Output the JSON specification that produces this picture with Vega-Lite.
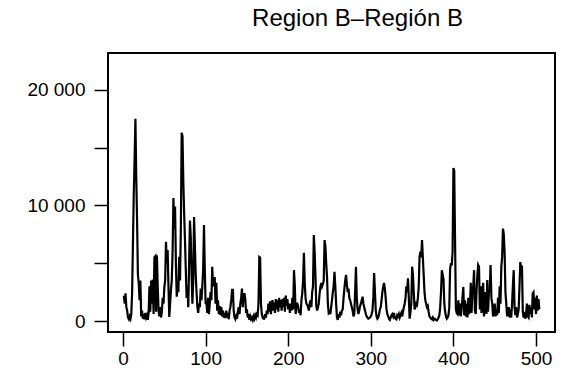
{
  "$schema": "https://vega.github.io/schema/vega-lite/v6.json",
  "width": 447,
  "height": 279,
  "autosize": {"type": "none"},
  "padding": {"left": 108, "top": 53, "right": 9, "bottom": 45},
  "background": "white",
  "config": {
    "view": {"stroke": "black", "strokeWidth": 2},
    "font": "Liberation Sans"
  },
  "title": {
    "text": "Region B–Región B",
    "fontSize": 24,
    "fontWeight": "normal",
    "font": "Liberation Sans",
    "color": "black",
    "anchor": "middle",
    "dx": 26,
    "offset": 22
  },
  "data": {
    "name": "series",
    "values": [
      {"t":1,"v":2200},{"t":2,"v":1500},{"t":3,"v":2400},{"t":4,"v":1200},{"t":5,"v":900},{"t":6,"v":300},{"t":7,"v":150},{"t":8,"v":400},{"t":9,"v":200},{"t":10,"v":600},
      {"t":11,"v":2500},{"t":12,"v":6700},{"t":13,"v":11000},{"t":14,"v":14000},{"t":15,"v":17500},{"t":16,"v":12500},{"t":17,"v":8700},{"t":18,"v":4000},{"t":19,"v":3300},{"t":20,"v":1800},
      {"t":21,"v":3500},{"t":22,"v":400},{"t":23,"v":900},{"t":24,"v":200},{"t":25,"v":600},{"t":26,"v":150},{"t":27,"v":700},{"t":28,"v":300},{"t":29,"v":500},{"t":30,"v":100},
      {"t":31,"v":700},{"t":32,"v":3000},{"t":33,"v":800},{"t":34,"v":3500},{"t":35,"v":1500},{"t":36,"v":3600},{"t":37,"v":600},{"t":38,"v":5500},{"t":39,"v":5600},{"t":40,"v":800},
      {"t":41,"v":5700},{"t":42,"v":3000},{"t":43,"v":900},{"t":44,"v":400},{"t":45,"v":1200},{"t":46,"v":300},{"t":47,"v":800},{"t":48,"v":2000},{"t":49,"v":1500},{"t":50,"v":2900},
      {"t":51,"v":3500},{"t":52,"v":6850},{"t":53,"v":5000},{"t":54,"v":6150},{"t":55,"v":3000},{"t":56,"v":350},{"t":57,"v":1500},{"t":58,"v":2700},{"t":59,"v":3500},{"t":60,"v":6000},
      {"t":61,"v":10650},{"t":62,"v":8000},{"t":63,"v":9900},{"t":64,"v":5000},{"t":65,"v":2100},{"t":66,"v":3000},{"t":67,"v":2500},{"t":68,"v":5550},{"t":69,"v":3500},{"t":70,"v":8000},
      {"t":71,"v":16300},{"t":72,"v":16000},{"t":73,"v":12000},{"t":74,"v":9300},{"t":75,"v":7000},{"t":76,"v":4400},{"t":77,"v":2000},{"t":78,"v":3000},{"t":79,"v":1200},{"t":80,"v":5000},
      {"t":81,"v":8700},{"t":82,"v":7300},{"t":83,"v":4000},{"t":84,"v":1500},{"t":85,"v":3500},{"t":86,"v":9000},{"t":87,"v":6500},{"t":88,"v":4000},{"t":89,"v":2500},{"t":90,"v":1200},
      {"t":91,"v":700},{"t":92,"v":1500},{"t":93,"v":1200},{"t":94,"v":2800},{"t":95,"v":1800},{"t":96,"v":3000},{"t":97,"v":4400},{"t":98,"v":8300},{"t":99,"v":4400},{"t":100,"v":1550},
      {"t":101,"v":1500},{"t":102,"v":700},{"t":103,"v":2000},{"t":104,"v":600},{"t":105,"v":1500},{"t":106,"v":2500},{"t":107,"v":1800},{"t":108,"v":4700},{"t":109,"v":3000},{"t":110,"v":3300},
      {"t":111,"v":3800},{"t":112,"v":1500},{"t":113,"v":3300},{"t":114,"v":900},{"t":115,"v":1800},{"t":116,"v":600},{"t":117,"v":1300},{"t":118,"v":500},{"t":119,"v":1200},{"t":120,"v":400},
      {"t":121,"v":900},{"t":122,"v":300},{"t":123,"v":700},{"t":124,"v":250},{"t":125,"v":900},{"t":126,"v":300},{"t":127,"v":700},{"t":128,"v":150},{"t":129,"v":900},{"t":130,"v":1200},
      {"t":131,"v":1800},{"t":132,"v":2700},{"t":133,"v":2700},{"t":134,"v":900},{"t":135,"v":300},{"t":136,"v":150},{"t":137,"v":400},{"t":138,"v":200},{"t":139,"v":800},{"t":140,"v":1200},
      {"t":141,"v":600},{"t":142,"v":1500},{"t":143,"v":2000},{"t":144,"v":2800},{"t":145,"v":1200},{"t":146,"v":2200},{"t":147,"v":2400},{"t":148,"v":1900},{"t":149,"v":700},{"t":150,"v":1000},
      {"t":151,"v":300},{"t":152,"v":600},{"t":153,"v":100},{"t":154,"v":400},{"t":155,"v":150},{"t":156,"v":300},{"t":157,"v":100},{"t":158,"v":400},{"t":159,"v":200},{"t":160,"v":500},
      {"t":161,"v":300},{"t":162,"v":600},{"t":163,"v":500},{"t":164,"v":1500},{"t":165,"v":5550},{"t":166,"v":5500},{"t":167,"v":1500},{"t":168,"v":600},{"t":169,"v":300},{"t":170,"v":200},
      {"t":171,"v":200},{"t":172,"v":600},{"t":173,"v":300},{"t":174,"v":900},{"t":175,"v":600},{"t":176,"v":1500},{"t":177,"v":800},{"t":178,"v":1700},{"t":179,"v":600},{"t":180,"v":1300},
      {"t":181,"v":1800},{"t":182,"v":900},{"t":183,"v":1600},{"t":184,"v":700},{"t":185,"v":1900},{"t":186,"v":1000},{"t":187,"v":1800},{"t":188,"v":800},{"t":189,"v":2000},{"t":190,"v":1200},
      {"t":191,"v":1800},{"t":192,"v":900},{"t":193,"v":1900},{"t":194,"v":1200},{"t":195,"v":2000},{"t":196,"v":800},{"t":197,"v":2200},{"t":198,"v":1300},{"t":199,"v":1900},{"t":200,"v":1000},
      {"t":201,"v":1500},{"t":202,"v":700},{"t":203,"v":1500},{"t":204,"v":900},{"t":205,"v":2000},{"t":206,"v":1000},{"t":207,"v":4400},{"t":208,"v":3000},{"t":209,"v":600},{"t":210,"v":1500},
      {"t":211,"v":1500},{"t":212,"v":1300},{"t":213,"v":700},{"t":214,"v":1000},{"t":215,"v":500},{"t":216,"v":1800},{"t":217,"v":2400},{"t":218,"v":3500},{"t":219,"v":5900},{"t":220,"v":3300},
      {"t":221,"v":2000},{"t":222,"v":1500},{"t":223,"v":1400},{"t":224,"v":1200},{"t":225,"v":900},{"t":226,"v":1500},{"t":227,"v":1800},{"t":228,"v":1200},{"t":229,"v":2500},{"t":230,"v":3000},
      {"t":231,"v":7450},{"t":232,"v":6000},{"t":233,"v":3800},{"t":234,"v":1300},{"t":235,"v":900},{"t":236,"v":1200},{"t":237,"v":1500},{"t":238,"v":2400},{"t":239,"v":3000},{"t":240,"v":3300},
      {"t":241,"v":3000},{"t":242,"v":3200},{"t":243,"v":3500},{"t":244,"v":7000},{"t":245,"v":6500},{"t":246,"v":5000},{"t":247,"v":3800},{"t":248,"v":1500},{"t":249,"v":700},{"t":250,"v":800},
      {"t":251,"v":600},{"t":252,"v":1200},{"t":253,"v":1800},{"t":254,"v":2500},{"t":255,"v":3000},{"t":256,"v":4250},{"t":257,"v":3000},{"t":258,"v":1500},{"t":259,"v":300},{"t":260,"v":100},
      {"t":261,"v":600},{"t":262,"v":300},{"t":263,"v":800},{"t":264,"v":500},{"t":265,"v":900},{"t":266,"v":1000},{"t":267,"v":2000},{"t":268,"v":2800},{"t":269,"v":3500},{"t":270,"v":4000},
      {"t":271,"v":3200},{"t":272,"v":2500},{"t":273,"v":2800},{"t":274,"v":2000},{"t":275,"v":1800},{"t":276,"v":1500},{"t":277,"v":1200},{"t":278,"v":900},{"t":279,"v":400},{"t":280,"v":600},
      {"t":281,"v":2500},{"t":282,"v":4700},{"t":283,"v":2000},{"t":284,"v":1000},{"t":285,"v":600},{"t":286,"v":900},{"t":287,"v":1300},{"t":288,"v":1500},{"t":289,"v":1800},{"t":290,"v":2100},
      {"t":291,"v":1500},{"t":292,"v":1200},{"t":293,"v":900},{"t":294,"v":600},{"t":295,"v":400},{"t":296,"v":300},{"t":297,"v":200},{"t":298,"v":250},{"t":299,"v":300},{"t":300,"v":400},
      {"t":301,"v":600},{"t":302,"v":900},{"t":303,"v":2000},{"t":304,"v":4150},{"t":305,"v":2500},{"t":306,"v":900},{"t":307,"v":400},{"t":308,"v":200},{"t":309,"v":300},{"t":310,"v":600},
      {"t":311,"v":1000},{"t":312,"v":1200},{"t":313,"v":1800},{"t":314,"v":2500},{"t":315,"v":3000},{"t":316,"v":3300},{"t":317,"v":2800},{"t":318,"v":2000},{"t":319,"v":1000},{"t":320,"v":600},
      {"t":321,"v":400},{"t":322,"v":200},{"t":323,"v":100},{"t":324,"v":300},{"t":325,"v":500},{"t":326,"v":600},{"t":327,"v":400},{"t":328,"v":700},{"t":329,"v":300},{"t":330,"v":200},
      {"t":331,"v":150},{"t":332,"v":500},{"t":333,"v":400},{"t":334,"v":600},{"t":335,"v":300},{"t":336,"v":500},{"t":337,"v":700},{"t":338,"v":400},{"t":339,"v":800},{"t":340,"v":1200},
      {"t":341,"v":1500},{"t":342,"v":2000},{"t":343,"v":3000},{"t":344,"v":2500},{"t":345,"v":3700},{"t":346,"v":2000},{"t":347,"v":200},{"t":348,"v":800},{"t":349,"v":1500},{"t":350,"v":4700},
      {"t":351,"v":4000},{"t":352,"v":2500},{"t":353,"v":1000},{"t":354,"v":1200},{"t":355,"v":1500},{"t":356,"v":1400},{"t":357,"v":2000},{"t":358,"v":3000},{"t":359,"v":5550},{"t":360,"v":6000},
      {"t":361,"v":5500},{"t":362,"v":7000},{"t":363,"v":5500},{"t":364,"v":4000},{"t":365,"v":2500},{"t":366,"v":1800},{"t":367,"v":1500},{"t":368,"v":1200},{"t":369,"v":1300},{"t":370,"v":800},
      {"t":371,"v":400},{"t":372,"v":300},{"t":373,"v":200},{"t":374,"v":150},{"t":375,"v":300},{"t":376,"v":100},{"t":377,"v":200},{"t":378,"v":150},{"t":379,"v":100},{"t":380,"v":50},
      {"t":381,"v":150},{"t":382,"v":300},{"t":383,"v":500},{"t":384,"v":1200},{"t":385,"v":2500},{"t":386,"v":4400},{"t":387,"v":4000},{"t":388,"v":3600},{"t":389,"v":1500},{"t":390,"v":800},
      {"t":391,"v":400},{"t":392,"v":200},{"t":393,"v":300},{"t":394,"v":500},{"t":395,"v":1200},{"t":396,"v":4500},{"t":397,"v":5000},{"t":398,"v":4800},{"t":399,"v":6000},{"t":400,"v":13250},
      {"t":401,"v":13000},{"t":402,"v":7000},{"t":403,"v":1000},{"t":404,"v":700},{"t":405,"v":600},{"t":406,"v":1800},{"t":407,"v":500},{"t":408,"v":1500},{"t":409,"v":400},{"t":410,"v":1200},
      {"t":411,"v":2000},{"t":412,"v":2950},{"t":413,"v":500},{"t":414,"v":1800},{"t":415,"v":400},{"t":416,"v":1500},{"t":417,"v":300},{"t":418,"v":2000},{"t":419,"v":600},{"t":420,"v":1200},
      {"t":421,"v":3300},{"t":422,"v":700},{"t":423,"v":2500},{"t":424,"v":3000},{"t":425,"v":4400},{"t":426,"v":900},{"t":427,"v":600},{"t":428,"v":2500},{"t":429,"v":4000},{"t":430,"v":4850},
      {"t":431,"v":4700},{"t":432,"v":1000},{"t":433,"v":3000},{"t":434,"v":700},{"t":435,"v":2000},{"t":436,"v":3300},{"t":437,"v":400},{"t":438,"v":1500},{"t":439,"v":2500},{"t":440,"v":600},
      {"t":441,"v":3550},{"t":442,"v":800},{"t":443,"v":2500},{"t":444,"v":2800},{"t":445,"v":4850},{"t":446,"v":2000},{"t":447,"v":1500},{"t":448,"v":400},{"t":449,"v":700},{"t":450,"v":1500},
      {"t":451,"v":400},{"t":452,"v":1000},{"t":453,"v":500},{"t":454,"v":2000},{"t":455,"v":700},{"t":456,"v":3000},{"t":457,"v":1500},{"t":458,"v":4700},{"t":459,"v":5550},{"t":460,"v":8000},
      {"t":461,"v":7500},{"t":462,"v":5900},{"t":463,"v":2500},{"t":464,"v":1500},{"t":465,"v":400},{"t":466,"v":900},{"t":467,"v":1200},{"t":468,"v":300},{"t":469,"v":1000},{"t":470,"v":300},
      {"t":471,"v":1500},{"t":472,"v":3000},{"t":473,"v":4400},{"t":474,"v":1200},{"t":475,"v":500},{"t":476,"v":1200},{"t":477,"v":300},{"t":478,"v":600},{"t":479,"v":1000},{"t":480,"v":3000},
      {"t":481,"v":5100},{"t":482,"v":4500},{"t":483,"v":4800},{"t":484,"v":800},{"t":485,"v":300},{"t":486,"v":800},{"t":487,"v":200},{"t":488,"v":600},{"t":489,"v":1500},{"t":490,"v":400},
      {"t":491,"v":300},{"t":492,"v":1400},{"t":493,"v":600},{"t":494,"v":1200},{"t":495,"v":300},{"t":496,"v":2400},{"t":497,"v":2500},{"t":498,"v":1000},{"t":499,"v":2000},{"t":500,"v":600},
      {"t":501,"v":2200},{"t":502,"v":900},{"t":503,"v":1900},{"t":504,"v":1000}
    ]
  },
  "mark": {"type": "line", "color": "black", "strokeWidth": 2.2, "clip": true},
  "encoding": {
    "x": {
      "field": "t",
      "type": "quantitative",
      "scale": {"domain": [-18.2, 523], "nice": false, "zero": false},
      "axis": {
        "title": null,
        "values": [0, 100, 200, 300, 400, 500],
        "domain": false,
        "grid": false,
        "ticks": true,
        "tickColor": "black",
        "tickWidth": 1.5,
        "tickSize": 14,
        "labelColor": "black",
        "labelFontSize": 19,
        "labelFont": "Liberation Sans",
        "labelPadding": 3,
        "labelFlush": false,
        "labelOverlap": false
      }
    },
    "y": {
      "field": "v",
      "type": "quantitative",
      "scale": {"domain": [-952, 23200], "nice": false, "zero": false},
      "axis": {
        "title": null,
        "values": [0, 5000, 10000, 15000, 20000],
        "labelExpr": "datum.value % 10000 == 0 ? replace(format(datum.value, ','), ',', ' ') : ''",
        "domain": false,
        "grid": false,
        "tickColor": "black",
        "tickWidth": 1.5,
        "tickSize": 14,
        "labelColor": "black",
        "labelFontSize": 19,
        "labelFont": "Liberation Sans",
        "labelPadding": 9,
        "labelFlush": false,
        "labelOverlap": false
      }
    }
  }
}
